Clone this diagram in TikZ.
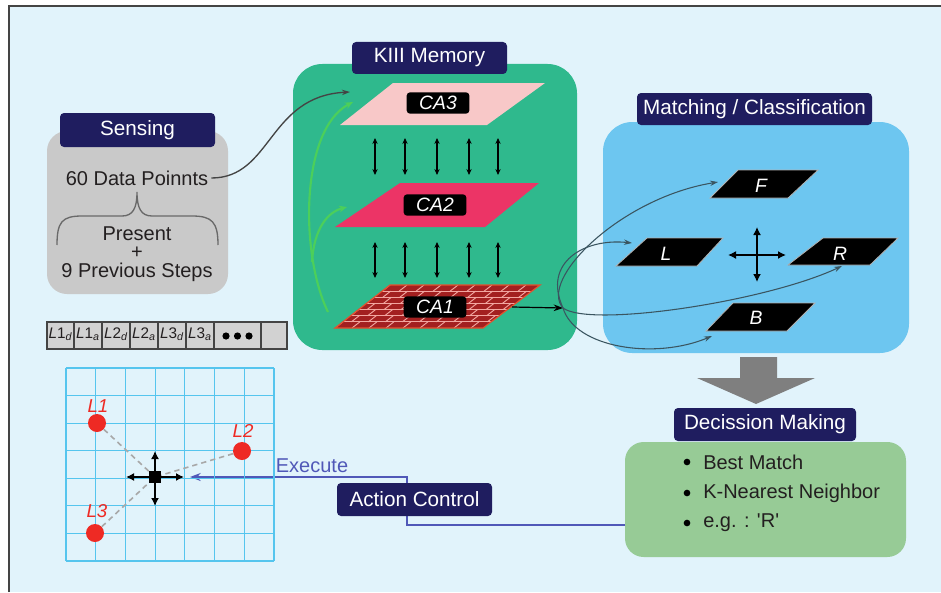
\documentclass[tikz,border=0pt]{standalone}
\usepackage{fontspec}
\setmainfont{Liberation Sans}
\usetikzlibrary{arrows.meta,fit,calc}
\definecolor{bgc}{HTML}{E1F3FB}
\definecolor{framec}{HTML}{444444}
\definecolor{navy}{HTML}{1F1D5F}
\definecolor{grayb}{HTML}{C9C9C9}
\definecolor{kgreen}{HTML}{2FB98D}
\definecolor{mblue}{HTML}{6DC6F0}
\definecolor{dgreen}{HTML}{97CB96}
\definecolor{txt}{HTML}{231F20}
\definecolor{pinkc}{HTML}{F8C8C8}
\definecolor{crim}{HTML}{EC3466}
\definecolor{brickc}{HTML}{A32020}
\definecolor{mortarc}{HTML}{F2A6A0}
\definecolor{brickedgec}{HTML}{E4502E}
\definecolor{leafg}{HTML}{4CCF5A}
\definecolor{slate}{HTML}{3A5560}
\definecolor{gridc}{HTML}{55C5EE}
\definecolor{redc}{HTML}{EE2A24}
\definecolor{dashc}{HTML}{A8A8A8}
\definecolor{actc}{HTML}{5058B8}
\definecolor{bigarrow}{HTML}{7F7F7F}
\definecolor{cellc}{HTML}{D2D2D2}
\tikzset{
  hdr/.style={fill=navy, rounded corners=3pt, inner sep=0pt},
  hdrtxt/.style={text=white, inner sep=0pt, font=\fontsize{15.5}{18}\selectfont},
  body/.style={text=txt, inner sep=0pt, font=\fontsize{15}{18}\selectfont},
  calbl/.style={fill=black, text=white, rounded corners=2.5pt, inner sep=0pt, minimum width=47pt, minimum height=16pt, font=\fontsize{14.5}{16}\selectfont\itshape},
  dirshape/.style={fill=black, draw=gray!60, line width=0.6pt},
  dirlbl/.style={text=white, inner sep=0pt, font=\fontsize{14.5}{16}\selectfont\itshape},
  dbl/.style={{Stealth[length=4.5pt,width=4pt]}-{Stealth[length=4.5pt,width=4pt]}, line width=0.8pt},
  crossarr/.style={-{Latex[length=6pt,width=6pt]}, line width=1.1pt},
  mcurve/.style={slate, line width=0.8pt, -{Stealth[length=6pt,width=4pt]}},
  leaf/.style={leafg, line width=1.6pt, -{Stealth[length=6pt,width=5pt]}},
  mortar/.style={mortarc, line width=0.7pt},
  cellbox/.style={fill=cellc, draw=framec, line width=0.9pt},
  celltxt/.style={text=txt, inner sep=0pt, font=\fontsize{11.5}{13}\selectfont},
  dot/.style={circle, fill=redc, inner sep=0pt, minimum size=13.5pt},
  dotlbl/.style={text=redc, inner sep=0pt, font=\fontsize{14}{16}\selectfont\itshape},
  actline/.style={actc, line width=1.1pt},
}
\begin{document}
\begin{tikzpicture}[x=0.75pt,y=-0.75pt]
\useasboundingbox (0,0) rectangle (941,592);
\fill[white] (0,0) rectangle (941,592);
\fill[bgc] (9,6) rectangle (941,592);
\draw[framec, line width=1.4pt] (9,592) -- (9,6) -- (941,6);

% ---------------- Sensing
\node[fit={(47,131)(228,294)}, inner sep=0pt, fill=grayb, rounded corners=15pt] (sense) {};
\node[hdr, fit={(60,113)(215,147)}] (senseh) {};
\node[hdrtxt] (senset) at (senseh.center) {Sensing};
\node[body] (dp) at (137,178) {60 Data Poinnts};
\node[body, align=center, font=\fontsize{15}{14}\selectfont] (pres) at (137,254) {Present\\+\\9 Previous Steps};
\draw[framec!80, line width=1pt] (57,245) .. controls (57,222) and (62,216) .. (82,216) -- (122,216)
  .. controls (133,216) and (137,208) .. (137,192)
  .. controls (137,208) and (141,216) .. (152,216) -- (192,216)
  .. controls (212,216) and (218,222) .. (218,245);

% ---------------- KIII Memory
\node[fit={(293,64)(577,350)}, inner sep=0pt, fill=kgreen, rounded corners=22pt] (kiii) {};
\node[hdr, fit={(352,42)(507,74)}] (kiiih) {};
\node[hdrtxt] (kiiit) at (kiiih.center) {KIII Memory};

\fill[pinkc] (393,83) -- (545,83) -- (487,125) -- (340,125) -- cycle;
\fill[crim] (400,183) -- (539,183) -- (485,227) -- (335,227) -- cycle;
\coordinate (c1a) at (390,285);
\coordinate (c1b) at (540,285);
\coordinate (c1c) at (483,328);
\coordinate (c1d) at (335,328);
\begin{scope}
\clip (c1a) -- (c1b) -- (c1c) -- (c1d) -- cycle;
\fill[brickc] (330,280) rectangle (545,333);
\foreach \j in {1,...,6} \draw[mortar] (330,{285+\j*43/7}) -- (545,{285+\j*43/7});
\foreach \j in {0,...,6} {
  \foreach \k in {-1,...,10} {
    \pgfmathsetmacro\ya{285+\j*43/7}
    \pgfmathsetmacro\yb{285+(\j+1)*43/7}
    \pgfmathsetmacro\xa{335+(328-\ya)*1.279+mod(\j,2)*8.5+\k*17}
    \pgfmathsetmacro\xb{335+(328-\yb)*1.279+mod(\j,2)*8.5+\k*17}
    \draw[mortar] (\xa,\ya) -- (\xb,\yb);
  }
}
\end{scope}
\draw[brickedgec, line width=0.9pt] (c1a) -- (c1b) -- (c1c) -- (c1d) -- cycle;

\node[calbl] (ca3) at (438,103) {CA3};
\node[calbl] (ca2) at (435,205) {CA2};
\node[calbl] (ca1) at (435,307) {CA1};

\foreach \x in {375,405,437,469,498} {
  \draw[dbl] (\x,138) -- (\x,175);
  \draw[dbl] (\x,242) -- (\x,278);
}

\coordinate (gstart) at (328,312);
\coordinate (gbr) at (312,262);
\coordinate (ca3in) at (353,102);
\coordinate (ca2in) at (347,207);
\draw[leaf] (gstart) .. controls (300,255) and (300,130) .. (ca3in);
\draw[leaf] (gbr) .. controls (314,228) and (328,212) .. (ca2in);

\coordinate (ca3s) at (350,92);
\draw[framec, line width=1pt, -{Stealth[length=6pt,width=4pt]}] (dp.east) ++(3,0) coordinate (dpo)
  .. controls (272,178) and (268,96) .. (ca3s);

\coordinate (ca1out) at (512,307);
\coordinate (hub) at (563,308);
\draw[line width=0.9pt, -{Stealth[length=7pt,width=5pt]}] (ca1out) -- (hub);

% ---------------- Matching / Classification
\node[fit={(603,122)(909,353)}, inner sep=0pt, fill=mblue, rounded corners=22pt] (match) {};
\node[hdr, fit={(637,93)(872,125)}] (matchh) {};
\node[hdrtxt] (matcht) at (matchh.center) {Matching / Classification};

\draw[dirshape] (738,170) -- (818,170) -- (788,198) -- (710,198) -- cycle;
\draw[dirshape] (647,238) -- (723,238) -- (697,266) -- (616,266) -- cycle;
\draw[dirshape] (823,238) -- (898,238) -- (870,265) -- (788,265) -- cycle;
\draw[dirshape] (733,303) -- (815,303) -- (787,331) -- (706,331) -- cycle;
\node[dirlbl] (fl) at (761,186) {F};
\node[dirlbl] (ll) at (666,254) {L};
\node[dirlbl] (rl) at (840,254) {R};
\node[dirlbl] (bl) at (756,318) {B};

\coordinate (mc) at (757,255);
\coordinate (mcl) at (728,255);
\coordinate (mcr) at (786,255);
\coordinate (mcu) at (757,227);
\coordinate (mcd) at (757,282);
\draw[crossarr] (mc) -- (mcl);
\draw[crossarr] (mc) -- (mcr);
\draw[crossarr] (mc) -- (mcu);
\draw[crossarr] (mc) -- (mcd);

\coordinate (ftip) at (718,182);
\coordinate (ltip) at (632,243);
\coordinate (rtip) at (842,266);
\coordinate (btip) at (712,336);
\draw[mcurve] (hub) .. controls (538,280) and (620,198) .. (ftip);
\draw[mcurve] (hub) .. controls (542,262) and (585,238) .. (ltip);
\draw[mcurve] (hub) .. controls (590,328) and (765,302) .. (rtip);
\draw[mcurve] (hub) .. controls (575,348) and (655,360) .. (btip);

% ---------------- big gray arrow
\fill[bigarrow] (740,357) -- (777,357) -- (777,378) -- (815,378) -- (756,404) -- (697,378) -- (740,378) -- cycle;

% ---------------- Decision Making
\node[fit={(625,442)(906,557)}, inner sep=0pt, fill=dgreen, rounded corners=14pt] (dec) {};
\node[hdr, fit={(674,408)(856,441)}] (dech) {};
\node[hdrtxt] (dect) at (dech.center) {Decission Making};
\node[circle, fill=black, inner sep=0pt, minimum size=5pt] (bu1) at (687,462) {};
\node[circle, fill=black, inner sep=0pt, minimum size=5pt] (bu2) at (687,493) {};
\node[circle, fill=black, inner sep=0pt, minimum size=5pt] (bu3) at (687,523) {};
\node[body, anchor=west] (t1) at (703,462) {Best Match};
\node[body, anchor=west] (t2) at (703,493) {K-Nearest Neighbor};
\node[body, anchor=west] (t3) at (703,523) {e.g. : \textquotesingle R\textquotesingle};

% ---------------- Action Control
\coordinate (decl) at (625,525);
\coordinate (actb) at (407,516);
\coordinate (actt) at (407,483);
\coordinate (exectip) at (190,477);
\draw[actline] (decl) -| (actb);
\draw[actline, -{Stealth[length=8pt,width=6pt]}] (actt) |- (exectip);
\node[hdr, fit={(337,483)(492,516)}] (act) {};
\node[hdrtxt] (actt2) at (act.center) {Action Control};
\node[text=actc, inner sep=0pt, font=\fontsize{15}{18}\selectfont] (exec) at (312,466) {Execute};

% ---------------- Bar of cells
\foreach \a/\b in {47/74,74/102,102/130,130/158,158/186,186/214,214/261,261/287}
  \draw[cellbox] (\a,322) rectangle (\b,349);
\node[celltxt] (c1) at (60.5,334) {{\itshape L}1\textsubscript{\itshape d}};
\node[celltxt] (c2) at (88,334) {{\itshape L}1\textsubscript{\itshape a}};
\node[celltxt] (c3) at (116,334) {{\itshape L}2\textsubscript{\itshape d}};
\node[celltxt] (c4) at (144,334) {{\itshape L}2\textsubscript{\itshape a}};
\node[celltxt] (c5) at (172,334) {{\itshape L}3\textsubscript{\itshape d}};
\node[celltxt] (c6) at (200,334) {{\itshape L}3\textsubscript{\itshape a}};
\foreach \x in {226,237.5,249}
  \fill[black] (\x,336) circle[radius=3.6];

% ---------------- Grid
\foreach \i in {0,...,7} {
  \draw[gridc, line width=0.9pt] ({66+\i*29.714},368) -- ({66+\i*29.714},561);
  \draw[gridc, line width=0.9pt] (66,{368+\i*27.571}) -- (274,{368+\i*27.571});
}
\node[dot] (l1) at (97,423) {};
\node[dot] (l2) at (242,451) {};
\node[dot] (l3) at (95,533) {};
\node[dotlbl] (l1t) at (98,406) {L1};
\node[dotlbl] (l2t) at (243,431) {L2};
\node[dotlbl] (l3t) at (97,511) {L3};
\coordinate (ctrc) at (155,477);
\draw[dashc, dashed, line width=1.2pt, dash pattern=on 4pt off 3pt] (l1) -- (ctrc);
\draw[dashc, dashed, line width=1.2pt, dash pattern=on 4pt off 3pt] (l2) -- (ctrc);
\draw[dashc, dashed, line width=1.2pt, dash pattern=on 4pt off 3pt] (l3) -- (ctrc);
\coordinate (gu) at (155,451);
\coordinate (gd) at (155,506);
\coordinate (gl) at (126,477);
\coordinate (gr) at (184,477);
\draw[crossarr] (ctrc) -- (gu);
\draw[crossarr] (ctrc) -- (gd);
\draw[crossarr] (ctrc) -- (gl);
\draw[crossarr] (ctrc) -- (gr);
\node[fill=black, minimum size=9.5pt, inner sep=0pt] (ctr) at (ctrc) {};
\end{tikzpicture}
\end{document}
